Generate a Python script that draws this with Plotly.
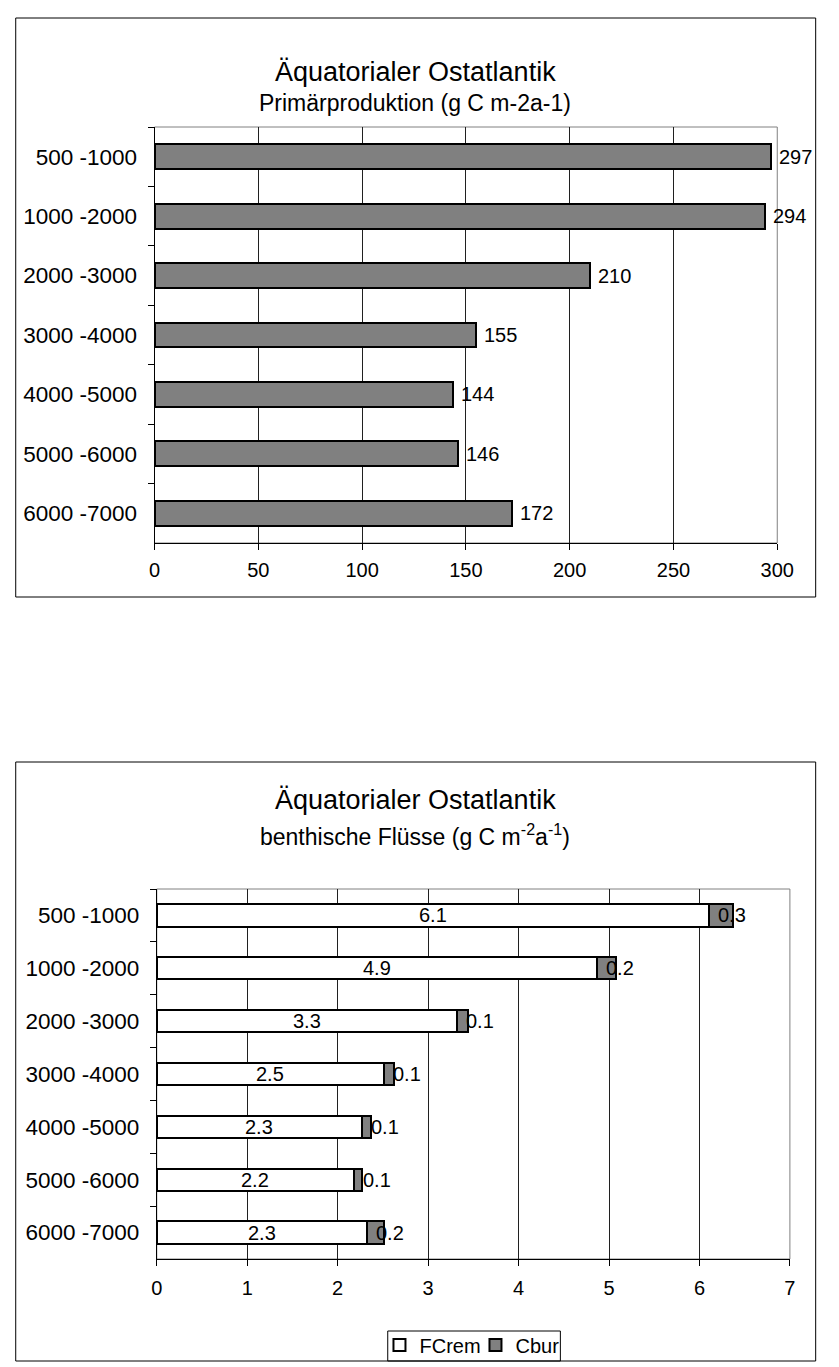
import plotly.graph_objects as go

# ---------------- data ----------------
depth_classes = ["500 -1000", "1000 -2000", "2000 -3000", "3000 -4000",
                 "4000 -5000", "5000 -6000", "6000 -7000"]
primary_production = [297, 294, 210, 155, 144, 146, 172]
fc_rem = [6.1, 4.87, 3.32, 2.51, 2.27, 2.18, 2.32]
c_bur = [0.27, 0.21, 0.12, 0.11, 0.10, 0.09, 0.19]
x_ticks_top = [0, 50, 100, 150, 200, 250, 300]
x_ticks_bottom = [0, 1, 2, 3, 4, 5, 6, 7]

W, H = 839, 1367
FONT = "Liberation Sans, Arial, sans-serif"


def px(x):
    return x / W


def py(y):
    return 1 - y / H


fig = go.Figure()

fig.add_trace(go.Bar(
    y=depth_classes, x=primary_production, orientation="h",
    marker=dict(color="#808080", line=dict(color="black", width=2)),
    showlegend=False, xaxis="x", yaxis="y", hoverinfo="x+y"))

fig.add_trace(go.Bar(
    y=depth_classes, x=fc_rem, orientation="h", name="FCrem",
    marker=dict(color="white", line=dict(color="black", width=2)),
    xaxis="x2", yaxis="y2", legendwidth=51))
fig.add_trace(go.Bar(
    y=depth_classes, x=c_bur, orientation="h", name="Cbur",
    marker=dict(color="#808080", line=dict(color="black", width=2)),
    xaxis="x2", yaxis="y2", legendwidth=47))

LBL = dict(size=20, color="black", family=FONT)
annotations = []
for cat, v in zip(depth_classes, primary_production):
    annotations.append(dict(x=v, y=cat, xref="x", yref="y", text=str(v),
                            xanchor="left", xshift=6, showarrow=False,
                            font=LBL))
for cat, f, c in zip(depth_classes, fc_rem, c_bur):
    annotations.append(dict(x=f / 2, y=cat, xref="x2", yref="y2",
                            text=f"{f:.1f}", xanchor="center", showarrow=False,
                            font=LBL))
    annotations.append(dict(x=f, y=cat, xref="x2", yref="y2",
                            text=f"{c:.1f}", xanchor="left", xshift=7,
                            showarrow=False, font=LBL))

# titles
annotations += [
    dict(x=px(421.5), y=py(55), xref="paper", yref="paper",
         text="Äquatorialer Ostatlantik", showarrow=False,
         font=dict(size=27, color="black", family=FONT)),
    dict(x=px(421), y=py(88), xref="paper", yref="paper",
         text="Primärproduktion (g C m-2a-1)", showarrow=False,
         font=dict(size=23, color="black", family=FONT)),
    dict(x=px(421.5), y=py(800), xref="paper", yref="paper",
         text="Äquatorialer Ostatlantik", showarrow=False,
         font=dict(size=27, color="black", family=FONT)),
    dict(x=px(421), y=py(835), xref="paper", yref="paper",
         text="benthische Flüsse (g C m<sup>-2</sup>a<sup>-1</sup>)",
         showarrow=False,
         font=dict(size=23, color="black", family=FONT)),
]

shapes = [
    # outer chart frames
    dict(type="rect", xref="paper", yref="paper", x0=px(10), x1=px(832.5),
         y0=py(18), y1=py(597), line=dict(color="black", width=1)),
    dict(type="rect", xref="paper", yref="paper", x0=px(10), x1=px(832.5),
         y0=py(762), y1=py(1361), line=dict(color="black", width=1)),
    # legend frame
    dict(type="rect", xref="paper", yref="paper", x0=px(392.5), x1=px(570),
         y0=py(1331), y1=py(1361), line=dict(color="black", width=1)),
    # plot area borders (gray)
    dict(type="rect", xref="x domain", yref="y domain", x0=0, x1=1, y0=0, y1=1,
         line=dict(color="#808080", width=1), layer="below"),
    dict(type="rect", xref="x2 domain", yref="y2 domain", x0=0, x1=1, y0=0, y1=1,
         line=dict(color="#808080", width=1), layer="below"),
]

axis_common = dict(showline=True, linecolor="black", linewidth=1,
                   ticks="outside", ticklen=6, tickcolor="black",
                   zeroline=False, fixedrange=True)
XT = dict(size=20, color="black", family=FONT)
YT = dict(size=22.5, color="black", family=FONT)

fig.update_layout(
    width=W, height=H,
    margin=dict(l=0, r=0, t=0, b=0),
    paper_bgcolor="white", plot_bgcolor="white",
    barmode="stack", bargap=0.58,
    font=dict(family=FONT, color="black", size=20),
    xaxis=dict(domain=[px(152.7), px(793)], anchor="y", range=[0, 300],
               tickvals=x_ticks_top, showgrid=True, gridcolor="#202020",
               gridwidth=1, ticklabelstandoff=3, tickfont=XT, **axis_common),
    yaxis=dict(domain=[py(543), py(127)], anchor="x", type="category",
               categoryorder="array", categoryarray=depth_classes,
               autorange="reversed", tickson="boundaries", showgrid=False,
               ticklabelstandoff=12, tickfont=YT, **axis_common),
    xaxis2=dict(domain=[px(155), px(806)], anchor="y2", range=[0, 7],
                tickvals=x_ticks_bottom, showgrid=True, gridcolor="#202020",
                gridwidth=1, ticklabelstandoff=5, tickfont=XT, **axis_common),
    yaxis2=dict(domain=[py(1259), py(889)], anchor="x2", type="category",
                categoryorder="array", categoryarray=depth_classes,
                autorange="reversed", tickson="boundaries", showgrid=False,
                ticklabelstandoff=12, tickfont=YT, **axis_common),
    legend=dict(orientation="h", x=px(384), y=py(1345), xanchor="left",
                yanchor="middle", borderwidth=0,
                bgcolor="rgba(0,0,0,0)",
                font=dict(size=20, color="black", family=FONT),
                itemwidth=30, traceorder="normal"),
    annotations=annotations,
    shapes=shapes,
)

fig.write_html("out.html",
               config={"displayModeBar": False},
               post_script="document.body.style.margin='0';"
                           "document.body.style.overflow='hidden';")
